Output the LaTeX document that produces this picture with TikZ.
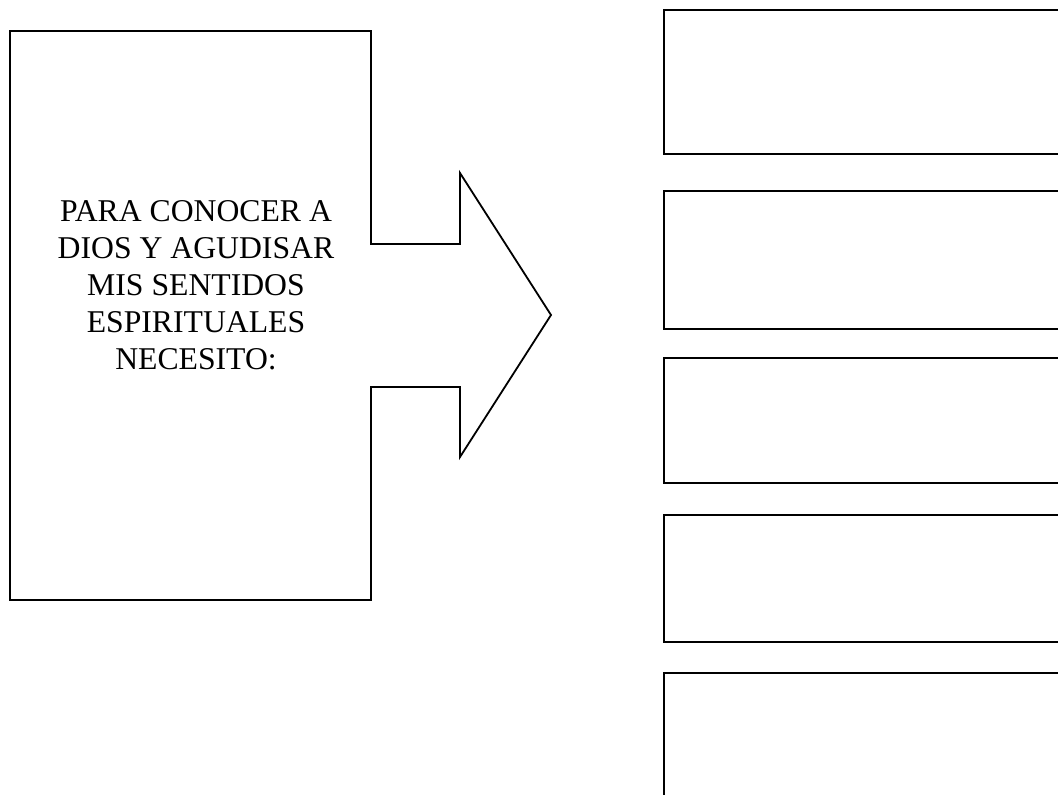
\documentclass[tikz,border=0pt]{standalone}
\usepackage{fontspec}
\setmainfont{Liberation Serif}
\tikzset{
  borde/.style={draw=black, line width=1.8pt, line join=miter},
  caja/.style={borde, fill=white}
}
\begin{document}
\begin{tikzpicture}[x=1pt,y=-1pt]
      \useasboundingbox (0,0) rectangle (1058,795);
      \clip (0,0) rectangle (1058,795);

      % caja izquierda con flecha
      \draw[borde] (371,244) -- (371,31) -- (10,31) -- (10,600) -- (371,600)
            -- (371,387) -- (460,387) -- (460,457) -- (551,315)
            -- (460,173) -- (460,244) -- cycle;

      \node[align=center, font=\fontsize{31.7}{37}\selectfont] (texto) at (196,285)
            {PARA CONOCER A\\DIOS Y AGUDISAR\\MIS SENTIDOS\\ESPIRITUALES\\NECESITO:};

      % cajas de la derecha
      \foreach \arriba/\abajo [count=\i] in {10/154, 191/329, 358/483, 515/642, 673/812}
        \draw[caja] (664,\arriba) rectangle (1072,\abajo);

\end{tikzpicture}
\end{document}
